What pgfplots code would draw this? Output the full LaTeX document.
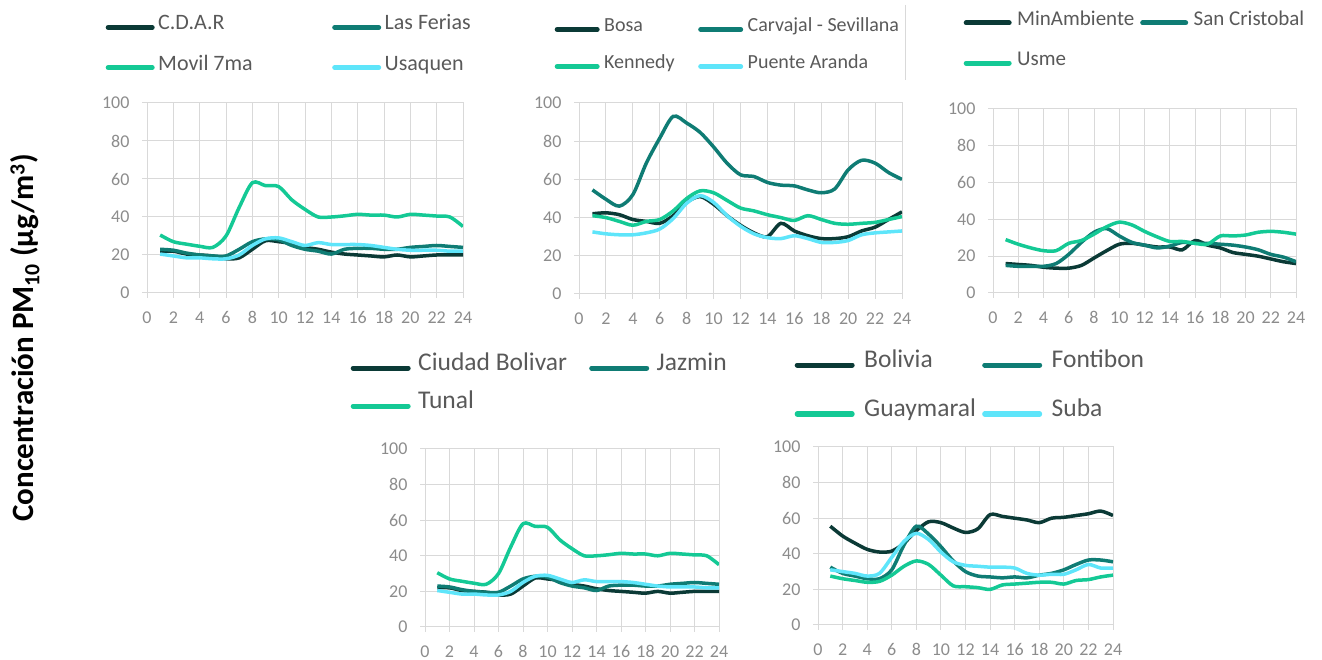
\documentclass[border=0pt]{standalone}
\usepackage{pgfplots}
\pgfplotsset{compat=1.18}
\usepackage{pgfplotstable}
\usepackage{fontspec}
\setmainfont{Carlito}

\definecolor{cdark}{HTML}{0B3A36}
\definecolor{cteal}{HTML}{0F7C74}
\definecolor{cgreen}{HTML}{14C995}
\definecolor{ccyan}{HTML}{5EE5FA}
\definecolor{gridc}{HTML}{D9D9D9}
\definecolor{tickc}{HTML}{8C8C8C}
\definecolor{legc}{HTML}{595959}

% hourly PM10 (ug/m3), hour 1..24
\pgfplotstableread{
h cdar fer mov usa
1 22 23 30.5 20.5
2 22 22.5 27 19.5
3 20.5 21 25.7 18.5
4 20 20 24.6 18.5
5 19.5 19.5 24 18
6 18 19.5 30 18
7 18.5 23 45 20
8 23 27 58 25
9 27.5 28.5 56.5 28.5
10 27 28 56 29
11 26 25 49 27
12 24 23 44 25
13 23 22 40 26.5
14 21.5 20.5 40 25.5
15 20.5 23 40.6 25.5
16 20 23.5 41.4 25.5
17 19.5 23.5 41 25
18 19 23 41 24
19 20 23 40 23
20 19 24 41.4 22.5
21 19.5 24.5 41 22.5
22 20 25 40.5 22.5
23 20 24.5 40 22
24 20 24 35 22
}\tabA

\pgfplotstableread{
h bosa carv ken pa
1 42 54.5 41 32.5
2 42.5 49.6 40 31.5
3 41.5 46 38 31
4 39 52 36 31
5 38 68.5 38 32
6 37 81.6 39 34
7 41 93 43.5 39.5
8 48 89.5 50 47.5
9 51 84.6 54 51.5
10 47 77 53 48
11 41 68.5 49 41
12 36 62.4 45 35.5
13 32 61.5 43.5 31.5
14 30 58.4 41.5 29.5
15 37 57 40 29
16 33 56.6 38.5 30.5
17 30.5 54.5 41 29
18 29 53 39 27
19 29 55 37 27
20 30 65 36.5 28
21 33 70 37 31
22 35 68.5 37.5 32
23 39 63.6 39 32.5
24 43 60 40.5 33
}\tabB

\pgfplotstableread{
h mina sanc usme
1 16 15 29
2 15.5 14.5 26.5
3 15 14.5 24.5
4 14 14.5 23
5 13.5 16 23
6 13.5 21 27
7 15 27.5 28.5
8 19 33 32
9 23 35 36
10 26.5 31 38.5
11 27 27.5 37
12 26 26 33.5
13 25 24.5 30.5
14 25 25.5 28
15 23.5 27.5 28
16 28.5 27 27
17 26 27 26.5
18 24.5 26.5 31
19 22 26 31
20 21 25 31.5
21 20 23.5 33
22 18.5 21 33.5
23 17 19.5 33
24 16 17 32
}\tabC

\pgfplotstableread{
h bol fon guay suba
1 55.5 32.5 27.5 31
2 50 29 26 30
3 46 27.5 25 29
4 42.5 26 24 27.5
5 41 26 24.5 29
6 41.5 31 28 38
7 46 45 33 47
8 53 55.5 36 51.5
9 58 51 34 48
10 57.5 44 28 41
11 54.5 36 22 35.5
12 52 30 21.5 33.5
13 54 27.5 21 33
14 62 27 20 32.5
15 61 26.5 22.5 32.5
16 60 27 23 32
17 59 26.5 23.5 29
18 57.5 28 24 28
19 60 29 24 28.5
20 60.5 31 23 28.5
21 61.5 34 25 31
22 62.5 36.5 25.5 34
23 64 36.5 27 32
24 61.5 35.5 28 32
}\tabE

\pgfplotsset{
  panel/.style={
    scale only axis, anchor=south west,
    xmin=0, xmax=24, ymin=0, ymax=100,
    xtick={0,2,...,24}, ytick={0,20,...,100},
    grid=major, grid style={draw=gridc, line width=1pt},
    axis line style={draw=gridc, line width=1pt},
    tick align=outside, xtick pos=bottom, ytick pos=left,
    major tick length=5pt, tick style={draw=gridc, line width=1pt},
    ticklabel style={font=\fontsize{18}{18}\selectfont, text=tickc},
    xticklabel style={yshift=-10pt},
    yticklabel style={xshift=-9pt},
    /pgf/number format/assume math mode=true,
    legend columns=2, legend cell align=left,
    every axis plot/.append style={line width=3.5pt, smooth, tension=0.5},
  },
  % #1 image length, #2 font size, #3 gap image-text, #4 row sep
  leg/.style n args={4}{
    legend image code/.code={\draw[##1, line width=5pt, line cap=round] (0pt,0pt) -- (#1,0pt);},
    legend style={draw=none, fill=none, inner sep=0pt, anchor=west,
      font=\fontsize{#2}{#2}\selectfont, text=legc,
      nodes={inner sep=0pt, text height=0.7em, text depth=0.2em},
      column sep=0pt, row sep=#4,
      /tikz/every odd column/.append style={column sep=#3}},
  },
}

\begin{document}
\begin{tikzpicture}
\path[use as bounding box] (0pt,0pt) rectangle (1322pt,660pt);

% panel 1
\begin{axis}[panel, at={(147pt,367pt)}, width=316pt, height=190pt,
  leg={44pt}{22}{3.5pt}{31.2pt},
  legend style={at={(axis description cs:-0.1313,1.292)}}]
\addplot[cdark] table[x=h,y=cdar] {\tabA};
\addlegendentry{\makebox[174pt][l]{C.D.A.R}}
\addplot[cteal] table[x=h,y=fer] {\tabA};
\addlegendentry{Las Ferias}
\addplot[cgreen] table[x=h,y=mov] {\tabA};
\addlegendentry{\makebox[174pt][l]{Movil 7ma}}
\addplot[ccyan] table[x=h,y=usa] {\tabA};
\addlegendentry{Usaquen}
\end{axis}

% panel 2
\begin{axis}[panel, at={(579pt,366pt)}, width=323pt, height=191pt,
  leg={40pt}{20}{4.5pt}{28pt},
  legend style={at={(axis description cs:-0.0759,1.288)}}]
\addplot[cdark] table[x=h,y=bosa] {\tabB};
\addlegendentry{\makebox[94pt][l]{Bosa}}
\addplot[cteal] table[x=h,y=carv] {\tabB};
\addlegendentry{Carvajal - Sevillana}
\addplot[cgreen] table[x=h,y=ken] {\tabB};
\addlegendentry{\makebox[94pt][l]{Kennedy}}
\addplot[ccyan] table[x=h,y=pa] {\tabB};
\addlegendentry{Puente Aranda}
\end{axis}

% panel 3
\begin{axis}[panel, at={(993pt,367pt)}, width=303pt, height=184pt,
  leg={43pt}{21}{5.5pt}{31.1pt},
  legend style={at={(axis description cs:-0.0974,1.3587)}}]
\addplot[cdark] table[x=h,y=mina] {\tabC};
\addlegendentry{\makebox[123pt][l]{MinAmbiente}}
\addplot[cteal] table[x=h,y=sanc] {\tabC};
\addlegendentry{San Cristobal}
\addplot[cgreen] table[x=h,y=usme] {\tabC};
\addlegendentry{Usme}
\end{axis}

% panel 4
\begin{axis}[panel, at={(425pt,33pt)}, width=294pt, height=178pt,
  leg={55pt}{25.5}{7.5pt}{29pt},
  legend style={at={(axis description cs:-0.2534,1.348)}}]
\addplot[cdark] table[x=h,y=cdar] {\tabA};
\addlegendentry{\makebox[171pt][l]{Ciudad Bolivar}}
\addplot[cteal] table[x=h,y=fer] {\tabA};
\addlegendentry{Jazmin}
\addplot[cgreen] table[x=h,y=mov] {\tabA};
\addlegendentry{Tunal}
\addplot[ccyan, forget plot] table[x=h,y=usa] {\tabA};
\end{axis}

% panel 5
\begin{axis}[panel, at={(818pt,35pt)}, width=295pt, height=178pt,
  leg={55pt}{25.5}{9.5pt}{40pt},
  legend style={at={(axis description cs:-0.0797,1.323)}}]
\addplot[cdark] table[x=h,y=bol] {\tabE};
\addlegendentry{\makebox[118pt][l]{Bolivia}}
\addplot[cteal] table[x=h,y=fon] {\tabE};
\addlegendentry{Fontibon}
\addplot[cgreen] table[x=h,y=guay] {\tabE};
\addlegendentry{\makebox[118pt][l]{Guaymaral}}
\addplot[ccyan] table[x=h,y=suba] {\tabE};
\addlegendentry{Suba}
\end{axis}

\draw[gridc, line width=1pt] (905pt,655pt) -- (905pt,580pt);
\node[rotate=90, font=\bfseries\fontsize{31}{31}\selectfont] at (25pt,322pt)
  {Concentración PM\textsubscript{10} (µg/m\textsuperscript{3})};
\end{tikzpicture}
\end{document}
